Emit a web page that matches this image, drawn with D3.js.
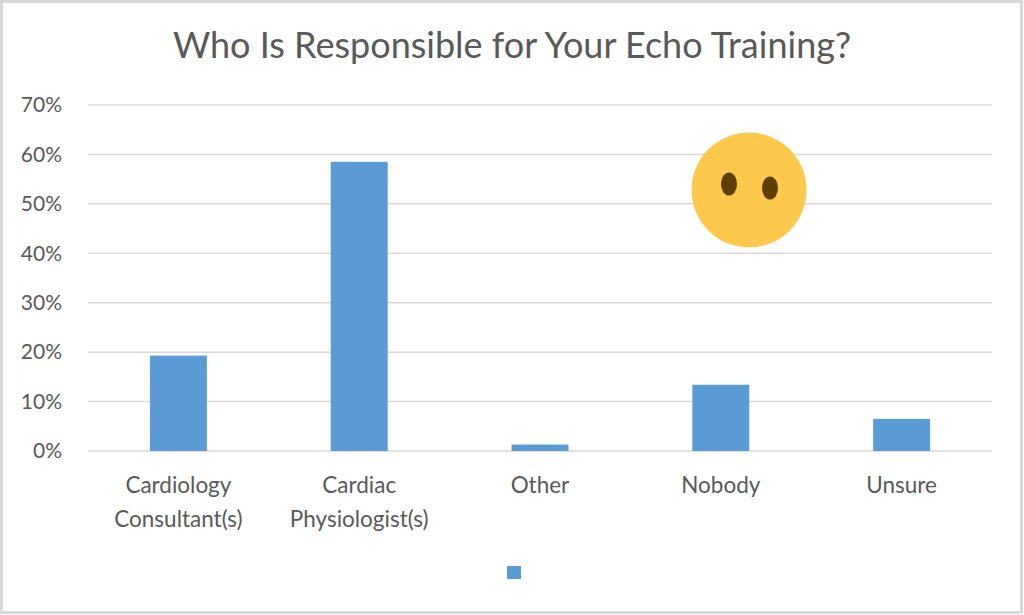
<!DOCTYPE html>
<html>
<head>
<meta charset="utf-8">
<script src="https://cdn.jsdelivr.net/npm/d3@7"></script>
<style>
  body { margin: 0; background: #fff; }
  svg { display: block; font-family: Lato, "Open Sans", sans-serif; }
</style>
</head>
<body>
<svg id="chart"></svg>
<script>
var categories = [
  ["Cardiology", "Consultant(s)"],
  ["Cardiac", "Physiologist(s)"],
  ["Other"],
  ["Nobody"],
  ["Unsure"]
];
var values = [0.193, 0.585, 0.013, 0.134, 0.065];
var tickValues = [0, 0.1, 0.2, 0.3, 0.4, 0.5, 0.6, 0.7];
var title = "Who Is Responsible for Your Echo Training?";

var width = 1024,
    height = 615,
    margin = {top: 105, right: 32, bottom: 164, left: 88};

var svg = d3.select('#chart')
    .attr('width', width)
    .attr('height', height);

// outer frame
svg.append('rect')
  .attr('x', 1.5).attr('y', 1.5)
  .attr('width', width - 4).attr('height', height - 4)
  .attr('fill', '#fff')
  .attr('stroke', '#d9d9d9')
  .attr('stroke-width', 3);

var x = d3.scaleBand()
    .domain(d3.range(categories.length))
    .range([margin.left, width - margin.right])
    .paddingInner(0.685)
    .paddingOuter(0.3425);

var y = d3.scaleLinear()
    .domain([0, 0.7])
    .range([height - margin.bottom, margin.top]);

// gridlines
svg.append('g')
  .selectAll('line')
  .data(tickValues)
  .enter()
  .append('line')
  .attr('x1', margin.left)
  .attr('x2', width - margin.right)
  .attr('y1', function(d) { return y(d); })
  .attr('y2', function(d) { return y(d); })
  .attr('stroke', '#d9d9d9')
  .attr('stroke-width', 1.5);

// y axis labels
var yAxis = d3.axisLeft(y)
    .tickValues(tickValues)
    .tickFormat(d3.format('.0%'))
    .tickSize(0)
    .tickPadding(0);

svg.append('g')
  .attr('transform', 'translate(' + (margin.left - 26) + ',0)')
  .call(yAxis)
  .call(function(g) { g.select('.domain').remove(); })
  .selectAll('text')
  .attr('fill', '#595959')
  .style('font-size', '21px')
  .style('font-family', 'Lato, sans-serif');

// bars
svg.append('g')
  .selectAll('rect')
  .data(values)
  .enter()
  .append('rect')
  .attr('x', function(d, i) { return x(i); })
  .attr('y', function(d) { return y(d); })
  .attr('width', x.bandwidth())
  .attr('height', function(d) { return y(0) - y(d); })
  .attr('fill', '#5b9bd5');

// category labels
var labels = svg.append('g')
  .selectAll('text')
  .data(categories)
  .enter()
  .append('text')
  .attr('text-anchor', 'middle')
  .attr('fill', '#595959')
  .style('font-size', '22.5px');

labels.selectAll('tspan')
  .data(function(d, i) { return d.map(function(t) { return {t: t, i: i}; }); })
  .enter()
  .append('tspan')
  .attr('x', function(d) { return x(d.i) + x.bandwidth() / 2; })
  .attr('y', function(d, j) { return y(0) + 42 + j * 34; })
  .text(function(d) { return d.t; });

// title
svg.append('text')
  .attr('x', 512)
  .attr('y', 58)
  .attr('text-anchor', 'middle')
  .attr('fill', '#595959')
  .style('font-size', '36px')
  .text(title);

// legend marker (series without a name)
svg.append('rect')
  .attr('x', 507).attr('y', 566)
  .attr('width', 14).attr('height', 13)
  .attr('fill', '#5b9bd5');

// emoji face
var face = svg.append('g').attr('transform', 'translate(749,190)');
face.append('circle').attr('r', 57.5).attr('fill', '#fdc94d');
face.append('ellipse').attr('cx', -20).attr('cy', -6).attr('rx', 8).attr('ry', 11.5).attr('fill', '#5f3f00');
face.append('ellipse').attr('cx', 21).attr('cy', -2).attr('rx', 8).attr('ry', 11.5).attr('fill', '#5f3f00');
</script>
</body>
</html>
